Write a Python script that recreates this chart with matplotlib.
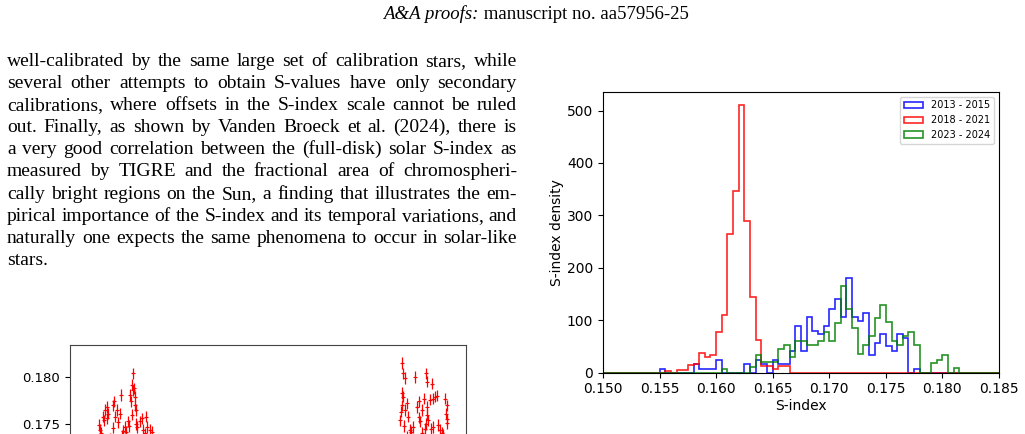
import matplotlib
matplotlib.use("Agg")
import matplotlib.pyplot as plt
import matplotlib.transforms as mtransforms
import numpy as np

# ---- page text ----
header_italic = "A&A proofs:"
header_plain = " manuscript no. aa57956-25"

paragraph = [
    "well-calibrated by the same large set of calibration stars, while",
    "several other attempts to obtain S-values have only secondary",
    "calibrations, where offsets in the S-index scale cannot be ruled",
    "out. Finally, as shown by Vanden Broeck et al. (2024), there is",
    "a very good correlation between the (full-disk) solar S-index as",
    "measured by TIGRE and the fractional area of chromospheri-",
    "cally bright regions on the Sun, a finding that illustrates the em-",
    "pirical importance of the S-index and its temporal variations, and",
    "naturally one expects the same phenomena to occur in solar-like",
    "stars.",
]

# ---- histogram data (bin width 0.0005, range 0.150 - 0.185) ----
bin_lo, bin_hi, bin_w = 0.150, 0.185, 0.0005
labels = ["2013 - 2015", "2018 - 2021", "2023 - 2024"]
colors = ["blue", "red", "green"]

blue_start = 0.1550
blue_vals = [8, 0, 0, 0, 0, 0, 16, 8, 8, 8, 24, 0, 0, 0, 0, 16, 0, 25, 17, 0,
             24, 17, 17, 42, 90, 42, 106, 80, 73, 90, 122, 140, 106, 180, 106,
             98, 114, 33, 57, 73, 50, 41, 73, 66, 0, 8]

red_start = 0.1555
red_vals = [4, 0, 5, 5, 14, 16, 38, 30, 34, 77, 110, 265, 347, 510, 289, 144,
            62, 12, 12, 8, 12, 12]

green_start = 0.1605
green_vals = [8, 0, 0, 0, 0, 10, 34, 20, 20, 20, 45, 52, 30, 60, 60, 52, 52, 60,
              78, 60, 95, 165, 122, 86, 35, 53, 70, 104, 130, 96, 60, 53, 70,
              78, 52, 0, 0, 18, 25, 34, 0, 9]

# ---- time series (decimal year, S-index), only the top part is on the page ----
ts_year = [2013.35, 2013.37, 2013.46, 2013.50, 2013.55, 2013.59, 2013.64,
           2013.79, 2013.84, 2013.87, 2013.93, 2014.04, 2014.06, 2014.15,
           2014.20, 2014.31, 2014.37, 2014.39, 2014.43, 2014.46, 2014.48,
           2014.51, 2014.54, 2014.57, 2014.61, 2014.70, 2014.76, 2014.81,
           2014.90, 2014.95, 2015.04, 2015.09, 2013.70, 2014.10, 2014.65,
           2013.40, 2013.62, 2013.98, 2014.25, 2014.34, 2014.52, 2014.86,
           2013.82, 2014.44, 2014.58,
           2023.37, 2023.43, 2023.43, 2023.48, 2023.48, 2023.54, 2023.54,
           2023.59, 2023.65, 2023.70, 2023.81, 2023.87, 2023.93, 2024.01,
           2024.04, 2024.09, 2024.17, 2024.20, 2024.24, 2024.26, 2024.26,
           2024.31, 2024.37, 2024.43, 2024.48, 2024.48, 2024.54, 2024.59,
           2024.70, 2024.87, 2024.90, 2024.93, 2024.93, 2023.60, 2024.80,
           2023.40, 2023.52, 2023.75, 2024.00, 2024.12, 2024.28, 2024.40,
           2024.64, 2024.76, 2024.95, 2023.45, 2024.22]
ts_sidx = [0.1749, 0.1744, 0.1758, 0.1754, 0.1765, 0.1756, 0.1761,
           0.1770, 0.1774, 0.1758, 0.1765, 0.1761, 0.1781, 0.1743,
           0.1747, 0.1753, 0.1781, 0.1774, 0.1792, 0.1804, 0.1786,
           0.1788, 0.1779, 0.1765, 0.1747, 0.1753, 0.1756, 0.1744,
           0.1758, 0.1747, 0.1744, 0.1742, 0.1735, 0.1738, 0.1733,
           0.1741, 0.1768, 0.1752, 0.1742, 0.1748, 0.1770, 0.1740,
           0.1746, 0.1760, 0.1750,
           0.1754, 0.1815, 0.1783, 0.1804, 0.1779, 0.1799, 0.1765,
           0.1772, 0.1758, 0.1744, 0.1747, 0.1800, 0.1768, 0.1774,
           0.1753, 0.1765, 0.1777, 0.1745, 0.1804, 0.1795, 0.1768,
           0.1754, 0.1776, 0.1793, 0.1777, 0.1747, 0.1779, 0.1780,
           0.1744, 0.1777, 0.1761, 0.1770, 0.1751, 0.1737, 0.1739,
           0.1763, 0.1748, 0.1742, 0.1757, 0.1741, 0.1760, 0.1745,
           0.1749, 0.1741, 0.1755, 0.1770, 0.1750]


def full_counts(start, vals, edges):
    counts = np.zeros(len(edges) - 1)
    i0 = int(round((start - edges[0]) / bin_w))
    counts[i0:i0 + len(vals)] = vals
    return counts


fig = plt.figure(figsize=(10.25, 4.34), dpi=100)
renderer = fig.canvas.get_renderer()
pix = mtransforms.IdentityTransform()
H = 434
serif = dict(family="Liberation Serif", fontsize=14, color="black")

# header, italic part + plain part, centred
hdr = dict(serif, fontsize=13.5)
t1 = fig.text(0, 0, header_italic, style="italic", transform=pix, **hdr)
t2 = fig.text(0, 0, header_plain, transform=pix, **hdr)
w1 = t1.get_window_extent(renderer).width
w2 = t2.get_window_extent(renderer).width
hx = 536 - (w1 + w2) / 2
t1.set_position((hx, H - 19))
t2.set_position((hx + w1, H - 19))

# justified paragraph in the left column
x0, x1 = 7, 517
for k, line in enumerate(paragraph):
    y = H - (66 + 22.1 * k)
    words = line.split()
    arts = [fig.text(0, y, w, transform=pix, **serif) for w in words]
    widths = [a.get_window_extent(renderer).width for a in arts]
    if k == len(paragraph) - 1 or len(words) == 1:
        gap = 3.5
    else:
        gap = (x1 - x0 - sum(widths)) / (len(words) - 1)
    x = x0
    for a, w in zip(arts, widths):
        a.set_position((x, y))
        x += w + gap

# histogram panel
edges = np.arange(bin_lo, bin_hi + bin_w / 2, bin_w)
ax = fig.add_axes([603 / 1025, 1 - 372.7 / H, 396 / 1025, 281 / H])
for start, vals, c, lab in zip([blue_start, red_start, green_start],
                               [blue_vals, red_vals, green_vals],
                               colors, labels):
    counts = full_counts(start, vals, edges)
    ax.hist(edges[:-1], bins=edges, weights=counts, histtype="step",
            color=c, lw=1.2, alpha=0.85, label=lab)
ax.set_xlim(bin_lo, bin_hi)
ax.set_ylim(0, 536)
ax.set_xticks(np.arange(0.150, 0.1851, 0.005))
ax.xaxis.set_major_formatter(plt.FormatStrFormatter("%.3f"))
ax.set_yticks([0, 100, 200, 300, 400, 500])
ax.tick_params(labelsize=10)
ax.set_xlabel("S-index", fontsize=10, labelpad=2)
ax.set_ylabel("S-index density", fontsize=10, labelpad=2)
ax.legend(loc="upper right", fontsize=7)

# time series panel, cut off by the page bottom
ax2 = fig.add_axes([70 / 1025, (H - 345) / H - 239 / H, 396 / 1025, 239 / H])
ax2.errorbar(ts_year, ts_sidx, yerr=0.0006, xerr=0.015, fmt="+", ms=2.5,
             color="red", elinewidth=0.9, mew=0.8)
ax2.set_xlim(2012.37, 2025.57)
ax2.set_ylim(0.1580, 0.1834)
ax2.set_yticks([0.175, 0.180])
ax2.yaxis.set_major_formatter(plt.FormatStrFormatter("%.3f"))
ax2.tick_params(labelsize=9.5, labelbottom=False)
for s in ax2.spines.values():
    s.set_color("#444444")

fig.savefig("out.png", dpi=100)
